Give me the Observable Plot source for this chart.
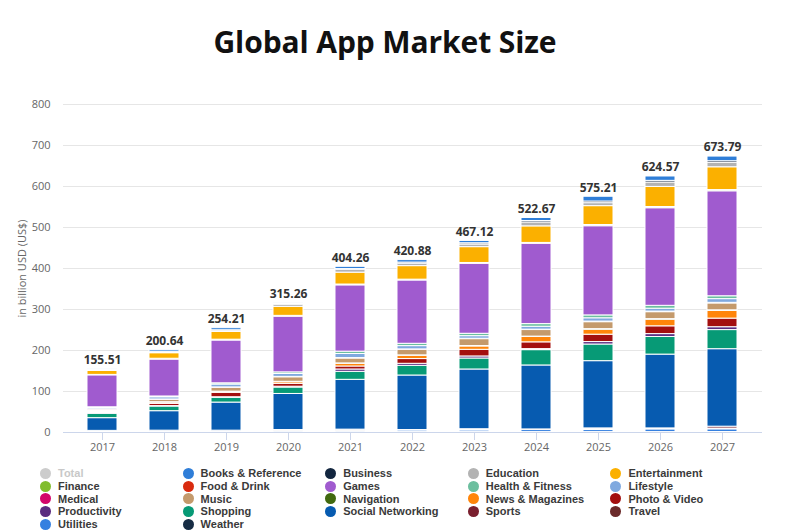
<!DOCTYPE html>
<html><head><meta charset="utf-8">
<script src="https://cdn.jsdelivr.net/npm/d3@7"></script>
<script src="https://cdn.jsdelivr.net/npm/@observablehq/plot@0.6"></script>
<style>
body{margin:0;background:#fff;font-family:"Open Sans",sans-serif;}
#wrap{position:relative;width:802px;height:532px;overflow:hidden;background:#fff;}
#title{position:absolute;top:22px;left:0;width:770px;text-align:center;font:700 30px/40px "Open Sans",sans-serif;color:#111;letter-spacing:-0.1px;}
#chart{position:absolute;top:80px;left:0;}
#legend{position:absolute;top:467px;left:40px;display:grid;grid-template-columns:repeat(5,142.6px);grid-auto-rows:12.8px;}
.item{display:flex;align-items:center;height:12.8px;font:700 11px/12.8px "Liberation Sans",Arial,sans-serif;color:#3a3a3a;white-space:nowrap;}
.item.off{color:#c8c8c8;}
.dot{width:11px;height:11px;border-radius:50%;margin-right:7px;flex:none;}
</style></head>
<body><div id="wrap"><div id="title">Global App Market Size</div><div id="chart"></div><div id="legend"></div></div>
<script>
const years = ["2017","2018","2019","2020","2021","2022","2023","2024","2025","2026","2027"];
const totals = [155.51,200.64,254.21,315.26,404.26,420.88,467.12,522.67,575.21,624.57,673.79];
const yTicks = [0,100,200,300,400,500,600,700,800];

// legend order (Highcharts stacks first series on top)
const categories = ["Books & Reference","Business","Education","Entertainment","Finance","Food & Drink","Games","Health & Fitness","Lifestyle","Medical","Music","Navigation","News & Magazines","Photo & Video","Productivity","Shopping","Social Networking","Sports","Travel","Utilities","Weather"];
const colors = ["#2f7ed8","#13263f","#b3b3b3","#fbb000","#80bd2e","#d92b0f","#a05bcf","#6cbf9f","#7fa9df","#d3066b","#c49a6c","#41690f","#ff850a","#a30f0f","#5a2c80","#079a76","#075bb0","#7a1f2e","#6b2a2a","#3580e0","#162c44"];

const weather       = [1,1,1,1,1,1,1,1,1,1,1.2];
const utilities     = [2,2.5,2.5,3,3,4,4,5,5,6.5,6.5];
const travel        = [0.5,0.5,0.5,1,1,0.5,1,0.5,1.5,1,2];
const sports        = [0.5,0.5,0.5,1,2,0.5,2,1,2.5,1.5,4.5];
const socialNet     = [31,47.5,68.5,88,121.5,133,145.7,156,164,180,189];
const shopping      = [10.5,11.4,11.5,15.7,19.5,23.6,26.8,37.4,40.6,43,46.6];
const productivity  = [2,1,1.5,2,5.7,5,5,2.5,6,7,7];
const photoVideo    = [2,5.5,10.7,7,7.3,11.5,16.2,16.5,18,19,21];
const news          = [2,3,2,4,6.5,8,8.2,13,12,16,18.7];
const navigation    = [1,1,1,1,1,1,1,1,1.5,1.5,1.5];
const music         = [3,5.7,9.3,11,12,13.6,16.8,16,17,17,16.8];
const medical       = [1,1,1,1,1,1,1,1,1.5,1.5,1.5];
const lifestyle     = [3,5.3,7,7,10,8,6.3,7,8,7,9];
const health        = [2,2,3,4,5.7,5.7,5.8,6.5,7,7,7];
const games         = [78,90,104.4,135.8,161.7,154.4,170.7,196,217.5,238,256];
const foodDrink     = [0.5,1,1,1,1,1,1,1,1.5,1.5,1.5];
const finance       = [0.5,1,1,1,1,1,1,1,1.5,1.5,1.5];
const entertainment = [9.5,13.5,19,22,29,33,38.6,40.4,46,49,55.6];
const education     = [1.5,2.5,3,5,6.7,5.7,6.5,9.6,7.3,10.8,10.7];
const business      = [1,1,1,1,2,3,3,3.4,4,4,4];
const books         = [1.3,4,5,2.3,5.5,6,5.6,7.4,11.6,10.6,11.4];

const seriesValues = {
  "Books & Reference": books, "Business": business, "Education": education, "Entertainment": entertainment,
  "Finance": finance, "Food & Drink": foodDrink, "Games": games, "Health & Fitness": health,
  "Lifestyle": lifestyle, "Medical": medical, "Music": music, "Navigation": navigation,
  "News & Magazines": news, "Photo & Video": photoVideo, "Productivity": productivity,
  "Shopping": shopping, "Social Networking": socialNet, "Sports": sports, "Travel": travel,
  "Utilities": utilities, "Weather": weather
};

const rows = [];
years.forEach((yr, i) => {
  [...categories].reverse().forEach(c => rows.push({year: yr, category: c, value: seriesValues[c][i]}));
});
const totalRows = years.map((yr, i) => ({year: yr, total: totals[i]}));

const chart = Plot.plot({
  width: 802, height: 376,
  marginTop: 24, marginBottom: 24, marginLeft: 63, marginRight: 40,
  style: {fontFamily: "'Open Sans', sans-serif", fontSize: "11px", background: "transparent"},
  x: {domain: years, range: [70, 754], paddingInner: 0.52, paddingOuter: 0.26, label: null},
  y: {domain: [0, 800], label: null},
  color: {domain: categories, range: colors},
  marks: [
    Plot.gridY(yTicks, {stroke: "#e6e6e6", strokeOpacity: 1}),
    Plot.axisY(yTicks, {tickSize: 0, tickPadding: 13, fill: "#666", label: "in billion USD (US$)", labelAnchor: "center", labelArrow: "none", labelOffset: 45}),
    Plot.barY(rows, {x: "year", y: "value", fill: "category", stroke: "white", strokeWidth: 1}),
    Plot.ruleY([0], {stroke: "#ccd6eb"}),
    Plot.axisX({tickSize: 8, stroke: "#ccd6eb", fill: "#666", tickPadding: 3, label: null}),
    Plot.text(totalRows, {x: "year", y: "total", text: d => d.total.toFixed(2), dy: -5, lineAnchor: "bottom", fontWeight: "bold", fill: "#333", fontSize: 12})
  ]
});
document.getElementById("chart").appendChild(chart);

const legendItems = [{name: "Total", color: "#cccccc", off: true}].concat(categories.map((c, i) => ({name: c, color: colors[i]})));
const legend = document.getElementById("legend");
legendItems.forEach(it => {
  const d = document.createElement("div");
  d.className = "item" + (it.off ? " off" : "");
  d.innerHTML = `<span class="dot" style="background:${it.color}"></span>`;
  d.appendChild(document.createTextNode(it.name));
  legend.appendChild(d);
});
</script></body></html>
